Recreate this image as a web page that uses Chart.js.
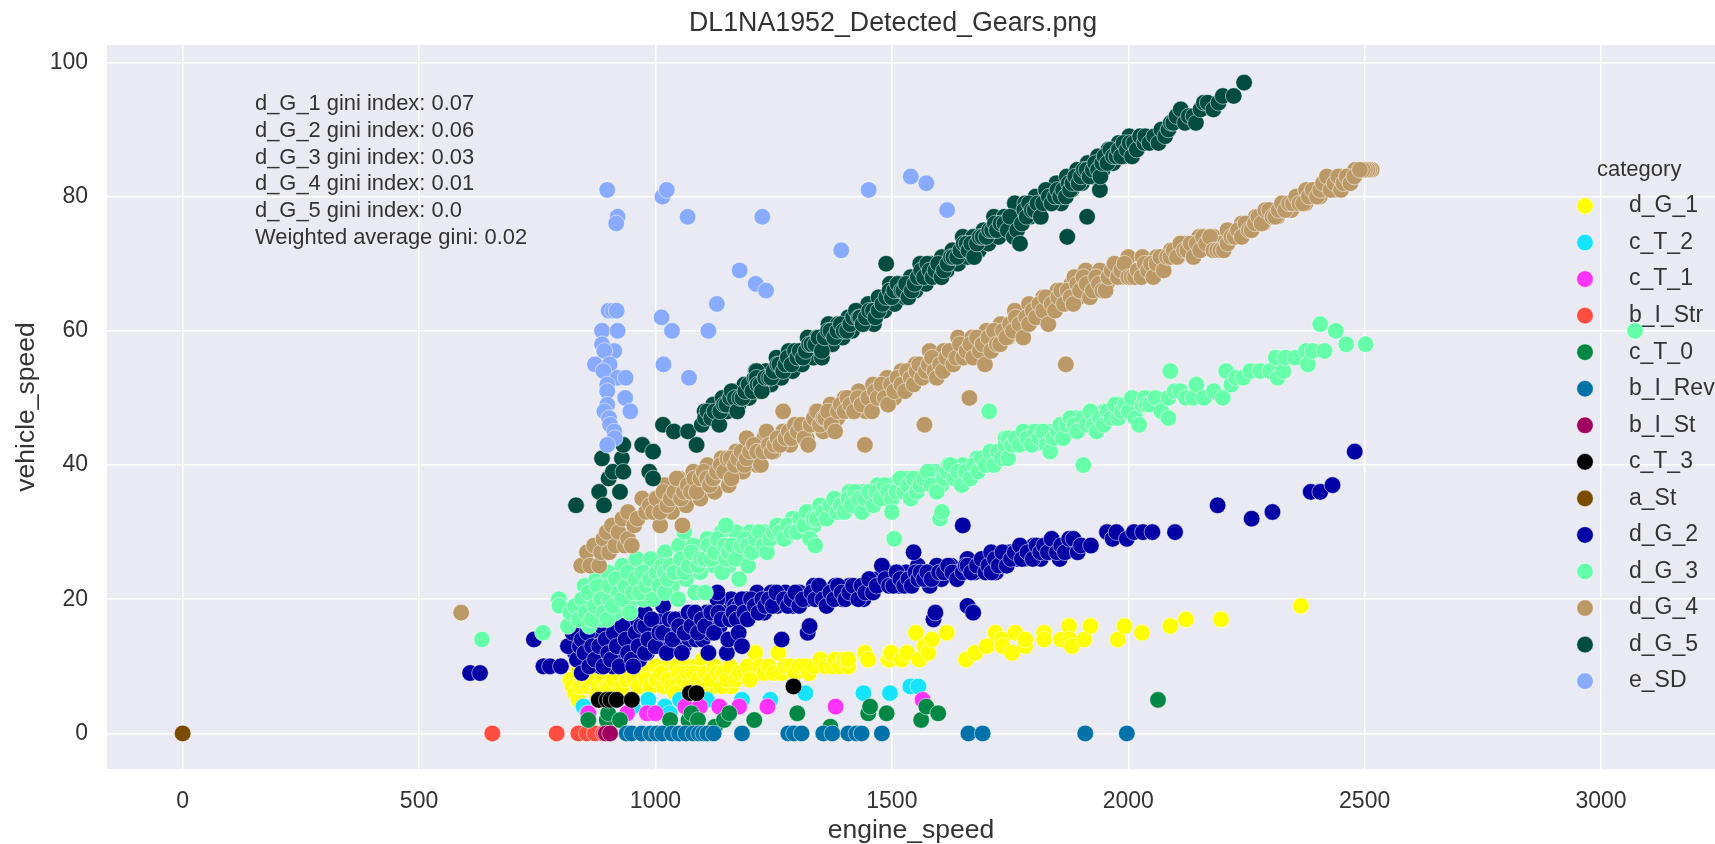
<!DOCTYPE html>
<html>
<head>
<meta charset="utf-8">
<script src="https://cdn.jsdelivr.net/npm/chart.js@4/dist/chart.umd.min.js"></script>
<style>
  html, body { margin: 0; padding: 0; background: #fff; overflow: hidden; }
  canvas { display: block; }
</style>
</head>
<body>
<canvas id="gears" width="1715" height="844"></canvas>
<script>
// engine_speed / vehicle_speed pairs per category
const dG1Edge = [[835,9],[850,10],[870,9],[895,9],[915,10],[945,10],[960,9],[985,10],[1000,10],[1025,10],[1045,10],[1065,10],[1085,10],[1100,11],[1120,7],[1160,7],[1210,9]];
const dG1 = [[820,8],[825,7],[830,6],[837,5],[841,7],[850,8],[858,7],[865,8],[875,6],[880,7],[890,8],[897,7],[904,7],[912,8],[920,6],[930,7],[939,8],[948,9],[955,8],[964,7],[972,9],[980,8],[990,7],[1003,8],[1012,9],[1018,7],[1027,8],[1035,7],[1042,6],[1050,9],[1059,8],[1068,9],[1072,7],[1080,9],[1090,8],[1098,7],[1105,9],[1116,8],[1125,10],[1132,9],[1143,9],[1140,7],[1150,8],[1158,10],[1170,8],[1178,9],[1190,9],[1195,10],[1200,8],[1211,12],[1221,10],[1230,9],[1240,10],[1250,9],[1260,12],[1267,9],[1275,10],[1285,10],[1295,9],[1305,10],[1317,10],[1325,9],[1335,10],[1349,11],[1360,10],[1373,10],[1380,11],[1390,10],[1400,11],[1408,10],[1408,11],[1443,12],[1450,11],[1492,11],[1495,11],[1497,12],[1499,12],[1521,11],[1532,12],[1551,15],[1558,11],[1568,13],[1570,13],[1577,12],[1585,14],[1616,15],[1657,11],[1676,12],[1701,13],[1719,15],[1733,14],[1734,13],[1754,12],[1761,15],[1782,13],[1782,14],[1822,15],[1822,14],[1858,14],[1875,16],[1876,14],[1881,13],[1907,14],[1920,16],[1978,14],[1992,16],[2029,15],[2089,16],[2122,17],[2196,17],[2365,19]];
const cT2 = [[848,4],[856,3],[952,4],[985,5],[1020,4],[1030,3],[1052,5],[1109,5],[1183,5],[1243,5],[1317,6],[1440,6],[1496,6],[1539,7],[1556,7]];
const cT1 = [[858,3],[940,3],[982,3],[1000,3],[1063,4],[1094,4],[1135,4],[1177,4],[1237,4],[1381,4],[1565,5]];
const bIStr = [[655,0],[791,0],[837,0],[855,0],[872,0],[890,0]];
const cT0 = [[858,2],[897,2],[900,3],[925,2],[1031,2],[1070,2],[1076,3],[1090,2],[1126,1],[1145,2],[1156,3],[1209,2],[1300,3],[1370,1],[1450,3],[1454,4],[1489,3],[1562,2],[1573,4],[1598,3],[2063,5]];
const bIRev = [[939,0],[950,0],[971,0],[990,0],[1003,0],[1015,0],[1035,0],[1050,0],[1064,0],[1080,0],[1092,0],[1101,0],[1110,0],[1123,0],[1183,0],[1281,0],[1293,0],[1309,0],[1355,0],[1374,0],[1408,0],[1425,0],[1436,0],[1479,0],[1662,0],[1692,0],[1909,0],[1997,0]];
const bISt = [[895,0],[904,0]];
const cT3 = [[880,5],[897,5],[905,5],[918,5],[950,5],[1073,6],[1087,6],[1292,7]];
const aSt = [[0,0]];
const dG2Edge = [[830,12],[838,16],[845,11],[852,14],[858,17],[865,11],[872,15],[878,13],[884,10],[892,12],[898,16],[904,14],[910,10],[916,12],[922,16],[928,13],[934,11],[940,15],[946,13],[952,17],[960,12],[966,11],[974,14],[982,12],[988,15],[994,13],[1002,16],[1010,13],[1018,17],[1026,15],[1032,13],[1040,16],[1046,14],[1054,17],[1060,13],[1066,17],[1072,14],[1080,16],[1086,14],[1094,16],[1100,14],[1108,18],[1114,15],[1120,16],[1128,17],[1136,16],[1144,19],[1150,18],[1160,20],[1168,19],[1178,19],[1192,20],[1200,18],[1215,21],[1230,18],[1245,21],[1258,19],[1275,21],[1290,19],[1305,21],[1320,20],[1335,22],[1350,21],[1365,20],[1380,22],[1395,20],[1410,22],[1425,21],[1440,20],[1455,22],[1470,23],[1490,24],[1500,23],[1515,22],[1530,24],[1545,23],[1555,25],[1570,24],[1580,22],[1595,25],[1605,23],[1625,25],[1640,24],[1660,26],[1675,24],[1695,25],[1720,24],[1735,25],[1750,27],[1765,26],[1780,26],[1800,28],[1815,26],[1840,28],[1855,26]];
const dG2 = [[608,9],[629,9],[743,14],[763,10],[777,10],[800,10],[815,13],[825,15],[834,11],[840,13],[844,9],[844,14],[850,12],[856,15],[860,10],[866,13],[872,11],[881,13],[886,16],[890,10],[895,14],[900,12],[906,11],[912,15],[918,13],[924,10],[930,16],[937,14],[942,12],[950,11],[953,10],[958,15],[964,13],[970,16],[978,12],[978,16],[978,18],[985,14],[992,17],[1000,13],[1008,15],[1016,15],[1016,19],[1024,12],[1030,17],[1036,14],[1042,17],[1050,16],[1056,12],[1062,15],[1070,18],[1076,16],[1084,18],[1090,15],[1098,17],[1105,16],[1112,12],[1118,18],[1124,15],[1131,20],[1131,21],[1133,18],[1140,17],[1151,12],[1154,14],[1158,17],[1165,18],[1172,17],[1176,15],[1183,13],[1183,20],[1188,18],[1195,17],[1202,20],[1210,19],[1218,18],[1226,20],[1232,19],[1240,20],[1248,19],[1256,21],[1267,14],[1272,20],[1280,19],[1288,20],[1296,21],[1304,19],[1312,20],[1322,15],[1326,16],[1330,21],[1338,20],[1346,22],[1354,20],[1362,19],[1370,21],[1378,20],[1386,22],[1394,21],[1402,20],[1410,21],[1418,22],[1429,20],[1436,22],[1444,21],[1452,23],[1460,21],[1468,22],[1479,25],[1486,23],[1494,22],[1503,22],[1510,24],[1518,23],[1526,22],[1535,23],[1542,22],[1546,27],[1550,24],[1556,23],[1561,24],[1568,23],[1575,24],[1584,23],[1588,17],[1592,18],[1600,24],[1610,24],[1619,25],[1628,24],[1638,23],[1650,24],[1650,31],[1656,25],[1660,19],[1660,25],[1668,24],[1672,18],[1680,25],[1690,26],[1698,24],[1704,25],[1710,27],[1711,24],[1718,26],[1726,25],[1734,27],[1743,25],[1752,26],[1760,27],[1771,28],[1775,26],[1787,27],[1798,26],[1806,28],[1814,27],[1822,28],[1830,27],[1838,29],[1849,27],[1858,28],[1866,27],[1875,29],[1884,29],[1893,27],[1900,28],[1921,28],[1955,30],[1967,29],[1975,30],[1997,29],[2012,30],[2031,30],[2051,30],[2099,30],[2189,34],[2261,32],[2305,33],[2386,36],[2406,36],[2432,37],[2479,42]];
const dG3Edge = [[850,22],[860,16],[875,23],[885,17],[900,24],[915,18],[930,25],[945,19],[960,26],[975,20],[990,26],[1005,21],[1020,27],[1035,22],[1050,28],[1065,23],[1080,28],[1095,24],[1110,29],[1125,25],[1140,30],[1155,25],[1170,30],[1185,26],[1200,30],[1215,28],[1230,30],[1245,29],[1260,31],[1275,29],[1290,32],[1305,31],[1320,33],[1335,31],[1350,34],[1365,33],[1380,35],[1395,33],[1410,36],[1425,34],[1440,36],[1455,35],[1470,37],[1485,35],[1500,37],[1515,36],[1530,38],[1545,36],[1560,38],[1575,38],[1590,39],[1605,37],[1620,40],[1635,38],[1650,40],[1665,38],[1680,41],[1695,40],[1710,42],[1725,41],[1740,44],[1755,43],[1770,44],[1785,44],[1800,45],[1815,44],[1830,45],[1845,44],[1860,46],[1875,46],[1890,47],[1905,46],[1920,48],[1935,47],[1950,48],[1965,47],[1980,49],[1995,48],[2010,49],[2025,49],[2040,50],[2055,49]];
const dG3 = [[633,14],[762,15],[796,20],[797,19],[815,16],[820,18],[830,19],[838,17],[845,20],[852,18],[858,21],[865,17],[872,19],[878,22],[885,20],[890,18],[898,17],[903,20],[903,22],[910,19],[916,23],[922,21],[930,20],[936,22],[942,24],[946,18],[952,21],[958,23],[967,21],[973,24],[980,22],[988,23],[995,20],[1002,24],[1008,22],[1014,25],[1020,21],[1020,24],[1026,23],[1032,25],[1040,24],[1048,20],[1054,26],[1061,30],[1062,24],[1070,25],[1076,27],[1084,21],[1090,25],[1096,26],[1105,21],[1105,26],[1112,28],[1118,26],[1125,27],[1132,29],[1141,24],[1147,28],[1149,26],[1149,31],[1155,27],[1162,28],[1170,26],[1177,23],[1182,28],[1190,29],[1196,25],[1196,28],[1204,27],[1212,29],[1220,30],[1228,28],[1236,27],[1242,29],[1250,30],[1257,31],[1264,30],[1272,29],[1280,31],[1288,30],[1299,30],[1306,32],[1314,31],[1320,33],[1327,29],[1334,32],[1338,28],[1341,32],[1348,34],[1355,33],[1362,32],[1370,34],[1378,35],[1384,33],[1392,34],[1400,33],[1408,35],[1415,34],[1422,36],[1430,35],[1437,33],[1444,35],[1452,36],[1461,34],[1468,36],[1476,35],[1484,37],[1492,36],[1500,35],[1500,33],[1505,29],[1510,36],[1518,38],[1526,36],[1534,37],[1540,35],[1546,38],[1553,36],[1560,37],[1568,38],[1576,39],[1584,37],[1595,36],[1602,32],[1606,33],[1610,38],[1617,39],[1624,40],[1632,38],[1640,39],[1648,37],[1656,39],[1666,38],[1674,40],[1682,39],[1690,41],[1698,40],[1706,48],[1708,42],[1716,40],[1724,42],[1732,41],[1740,43],[1746,41],[1746,44],[1754,43],[1762,44],[1770,43],[1778,45],[1786,44],[1796,43],[1804,45],[1812,44],[1820,45],[1827,43],[1835,42],[1842,44],[1850,45],[1856,46],[1862,44],[1870,46],[1878,47],[1886,46],[1892,45],[1905,40],[1905,47],[1912,46],[1920,48],[1927,46],[1933,45],[1940,47],[1948,46],[1956,48],[1964,47],[1972,49],[1979,47],[1986,48],[1994,49],[2001,48],[2008,50],[2015,47],[2023,46],[2030,49],[2035,50],[2039,49],[2046,49],[2058,50],[2070,48],[2085,47],[2085,50],[2089,54],[2098,51],[2110,51],[2122,50],[2137,50],[2144,52],[2160,50],[2181,51],[2200,50],[2207,54],[2218,52],[2228,53],[2243,53],[2258,54],[2279,54],[2300,54],[2312,56],[2316,53],[2328,54],[2332,56],[2353,56],[2376,57],[2380,55],[2390,57],[2406,61],[2415,57],[2439,60],[2461,58],[2502,58],[3072,60]];
const dG4Edge = [[1000,35],[1010,31],[1020,37],[1035,33],[1050,38],[1065,34],[1080,39],[1095,35],[1110,40],[1125,36],[1140,41],[1155,37],[1170,42],[1185,39],[1200,43],[1215,40],[1230,44],[1250,42],[1270,45],[1285,43],[1300,46],[1320,44],[1340,48],[1355,45],[1370,49],[1385,47],[1400,50],[1415,48],[1430,51],[1445,48],[1460,52],[1475,50],[1490,53],[1505,50],[1520,54],[1535,52],[1550,55],[1565,53],[1580,57],[1595,53],[1610,57],[1625,55],[1640,59],[1655,56],[1670,59],[1685,57],[1700,60],[1715,58],[1730,61],[1745,59],[1760,63],[1775,60],[1790,64],[1805,62],[1820,65],[1835,63],[1850,66],[1865,64],[1880,67],[1895,65],[1910,69],[1925,66],[1940,69],[1955,67],[1970,70],[1985,68],[2000,71],[2015,68],[2030,71],[2045,69],[2060,71],[2075,71],[2090,72],[2105,71],[2120,73],[2135,72],[2150,74],[2165,73],[2180,74],[2195,73],[2210,75],[2225,74],[2240,76],[2255,75],[2270,77],[2285,76],[2300,78],[2315,77],[2330,79],[2345,78],[2360,80],[2375,79],[2390,81],[2405,80],[2420,82],[2435,81],[2450,83],[2465,82],[2480,84]];
const dG4 = [[589,18],[843,25],[855,27],[862,25],[870,28],[881,25],[885,27],[890,29],[897,30],[902,27],[908,31],[915,28],[922,30],[930,32],[935,28],[942,29],[942,33],[950,28],[955,31],[962,32],[972,35],[980,33],[988,34],[995,33],[1002,35],[1010,33],[1017,36],[1025,34],[1032,35],[1040,36],[1045,38],[1054,35],[1057,31],[1060,36],[1068,37],[1075,36],[1082,38],[1087,36],[1095,38],[1102,39],[1109,38],[1115,37],[1122,38],[1130,39],[1138,40],[1145,39],[1152,41],[1159,41],[1161,38],[1168,40],[1175,41],[1182,42],[1188,40],[1193,41],[1193,44],[1200,42],[1208,43],[1215,42],[1223,40],[1228,42],[1235,45],[1240,43],[1246,42],[1252,43],[1258,44],[1264,43],[1270,48],[1275,44],[1282,45],[1288,44],[1295,46],[1301,45],[1308,46],[1315,44],[1323,43],[1328,46],[1335,47],[1342,48],[1348,46],[1355,47],[1359,47],[1365,48],[1372,46],[1380,45],[1386,48],[1392,49],[1400,48],[1406,50],[1412,49],[1420,48],[1428,50],[1436,49],[1443,43],[1450,50],[1458,48],[1464,51],[1470,50],[1478,52],[1485,50],[1492,49],[1498,52],[1505,51],[1512,53],[1520,52],[1528,51],[1532,54],[1540,53],[1546,52],[1552,54],[1558,55],[1564,53],[1569,46],[1572,54],[1578,55],[1585,56],[1590,54],[1595,53],[1602,55],[1608,54],[1615,56],[1622,57],[1630,55],[1636,56],[1644,58],[1651,56],[1658,57],[1664,50],[1666,58],[1672,56],[1680,59],[1686,57],[1692,58],[1697,55],[1704,59],[1710,57],[1716,60],[1722,58],[1729,58],[1735,60],[1742,59],[1750,61],[1756,60],[1762,62],[1770,61],[1778,59],[1784,62],[1790,61],[1798,63],[1805,62],[1812,64],[1820,63],[1826,65],[1831,61],[1838,64],[1845,63],[1852,65],[1858,66],[1864,64],[1868,55],[1872,66],[1878,65],[1884,64],[1886,68],[1892,67],[1898,66],[1905,68],[1912,67],[1919,65],[1925,66],[1932,68],[1938,67],[1945,66],[1952,66],[1958,68],[1965,69],[1971,70],[1978,68],[1985,69],[1992,70],[2000,68],[2007,68],[2014,68],[2020,69],[2028,68],[2035,70],[2042,69],[2048,70],[2053,68],[2060,70],[2068,71],[2075,69],[2082,71],[2089,71],[2096,72],[2103,71],[2110,73],[2118,72],[2125,72],[2132,73],[2138,71],[2145,73],[2152,72],[2158,74],[2165,73],[2173,74],[2180,72],[2188,72],[2195,72],[2202,72],[2210,73],[2218,74],[2225,74],[2232,75],[2240,74],[2248,76],[2255,75],[2261,75],[2268,76],[2275,77],[2282,76],[2290,78],[2298,78],[2305,77],[2311,77],[2318,78],[2325,79],[2332,78],[2340,79],[2348,79],[2355,80],[2362,79],[2370,79],[2376,81],[2382,80],[2390,81],[2399,80],[2406,81],[2412,82],[2420,83],[2428,81],[2436,82],[2444,83],[2450,81],[2455,82],[2462,83],[2470,82],[2478,83],[2515,84],[2510,84],[2506,84],[2501,84],[2496,84],[2490,84]];
const dG5Edge = [[1104,48],[1112,47],[1122,49],[1130,47],[1142,50],[1152,48],[1165,51],[1176,49],[1188,52],[1198,50],[1212,54],[1220,51],[1234,54],[1244,52],[1256,56],[1266,53],[1282,57],[1290,54],[1302,57],[1310,55],[1322,59],[1334,56],[1342,59],[1352,56],[1366,61],[1374,58],[1386,61],[1396,59],[1408,62],[1416,60],[1428,63],[1440,61],[1450,64],[1462,61],[1472,65],[1484,63],[1496,67],[1506,64],[1516,67],[1528,65],[1540,68],[1550,66],[1560,70],[1572,67],[1584,70],[1596,69],[1606,71],[1616,69],[1628,72],[1640,70],[1650,74],[1660,71],[1672,74],[1684,72],[1694,75],[1704,73],[1716,77],[1726,74],[1738,77],[1748,75],[1760,79],[1770,76],[1782,79],[1792,77],[1804,80],[1814,77],[1826,81],[1836,79],[1848,82],[1858,79],[1870,83],[1880,81],[1892,84],[1902,82],[1914,85],[1924,83],[1936,86],[1946,84],[1958,87],[1968,85],[1980,88],[1990,86],[2002,89],[2014,87],[2026,89]];
const dG5 = [[832,34],[881,36],[887,41],[891,34],[901,38],[910,39],[925,36],[929,41],[932,39],[932,43],[972,43],[987,39],[995,38],[995,42],[1016,46],[1039,45],[1069,45],[1087,43],[1098,46],[1105,47],[1110,48],[1118,47],[1125,48],[1135,46],[1137,48],[1145,49],[1150,49],[1158,50],[1161,51],[1168,50],[1173,48],[1178,50],[1184,50],[1190,51],[1197,52],[1205,51],[1210,53],[1214,54],[1214,53],[1216,52],[1222,52],[1225,51],[1232,53],[1240,53],[1245,53],[1250,54],[1258,55],[1262,55],[1270,54],[1275,55],[1280,56],[1288,55],[1295,57],[1300,56],[1305,57],[1312,56],[1318,57],[1325,58],[1330,58],[1338,58],[1345,59],[1352,57],[1358,59],[1365,60],[1370,60],[1378,59],[1385,60],[1392,61],[1398,60],[1405,60],[1412,61],[1418,62],[1424,63],[1430,62],[1433,62],[1438,61],[1445,62],[1452,63],[1460,63],[1465,62],[1472,63],[1480,64],[1488,70],[1488,65],[1495,66],[1500,65],[1505,66],[1512,67],[1520,66],[1524,66],[1530,67],[1535,65],[1542,66],[1548,67],[1555,68],[1562,69],[1568,68],[1575,70],[1580,69],[1586,68],[1592,69],[1598,70],[1605,68],[1610,69],[1618,70],[1625,71],[1630,71],[1638,71],[1645,72],[1652,73],[1658,73],[1662,72],[1668,73],[1674,71],[1680,73],[1686,74],[1692,74],[1700,74],[1706,75],[1712,75],[1718,76],[1722,75],[1730,76],[1738,76],[1745,75],[1750,77],[1758,74],[1765,75],[1771,73],[1775,76],[1780,78],[1785,77],[1790,79],[1796,78],[1802,78],[1808,79],[1815,77],[1820,79],[1826,81],[1832,80],[1838,79],[1845,80],[1850,81],[1856,80],[1862,81],[1868,80],[1871,74],[1874,82],[1877,81],[1882,82],[1888,83],[1895,82],[1900,83],[1906,84],[1912,84],[1913,77],[1918,83],[1925,84],[1930,85],[1936,84],[1940,81],[1941,83],[1945,85],[1950,86],[1956,85],[1962,87],[1968,86],[1975,86],[1980,87],[1985,86],[1990,88],[1997,87],[2003,88],[2008,86],[2012,88],[2018,87],[2025,89],[2034,88],[2036,89],[2045,88],[2055,89],[2064,88],[2070,90],[2078,89],[2085,90],[2090,91],[2095,91],[2102,92],[2111,93],[2120,91],[2128,92],[2138,92],[2143,91],[2153,93],[2160,94],[2168,94],[2180,93],[2191,94],[2200,95],[2223,95],[2245,97]];
const eSD = [[898,81],[920,77],[917,76],[1015,80],[1024,81],[1068,77],[1226,77],[1451,81],[1540,83],[1573,82],[1617,78],[1393,72],[1178,69],[1212,67],[1234,66],[1130,64],[1013,62],[1035,60],[1112,60],[1017,55],[1071,53],[901,63],[910,63],[918,63],[887,60],[920,60],[887,58],[913,57],[892,57],[872,55],[903,55],[890,54],[920,53],[937,53],[898,52],[898,51],[936,50],[947,48],[898,49],[892,48],[902,47],[904,46],[913,45],[914,44],[898,43]];

const categories = ['d_G_1','c_T_2','c_T_1','b_I_Str','c_T_0','b_I_Rev','b_I_St','c_T_3','a_St','d_G_2','d_G_3','d_G_4','d_G_5','e_SD'];
// the edge rows of each thick band go first so the middle rows sit on top
const seriesPoints = [dG1Edge.concat(dG1),cT2,cT1,bIStr,cT0,bIRev,bISt,cT3,aSt,dG2Edge.concat(dG2),dG3Edge.concat(dG3),dG4Edge.concat(dG4),dG5Edge.concat(dG5),eSD];
const colors = ['#ffff00','#16e4ff','#ff33ff','#ff4d40','#008844','#0072aa','#a00060','#000000','#7a4b00','#0000a5','#66ffaa','#bb9966','#004d40','#88aaff'];
const xTicks = [0,500,1000,1500,2000,2500,3000];
const yTicks = [0,20,40,60,80,100];
const giniLines = ['d_G_1 gini index: 0.07','d_G_2 gini index: 0.06','d_G_3 gini index: 0.03','d_G_4 gini index: 0.01','d_G_5 gini index: 0.0','Weighted average gini: 0.02'];

const TXT = '#333333';
const FONT = '"Liberation Sans", Arial, sans-serif';
const EDGE = 'rgba(255,255,255,0.75)';

// title, gini note and the legend sit at fixed spots, the legend under the points
const overlay = {
  id: 'overlay',
  beforeDatasetsDraw(chart) {
    const c = chart.ctx;
    c.save();
    c.fillStyle = TXT;
    c.textBaseline = 'middle';
    c.textAlign = 'left';
    c.font = '21.9px ' + FONT;
    giniLines.forEach((t, i) => c.fillText(t, 255, 104 + i * 26.8));
    c.font = '22px ' + FONT;
    c.fillText('category', 1597, 170);
    categories.forEach((name, i) => {
      const y = 206 + i * 36.55;
      c.beginPath();
      c.arc(1585, y, 8.3, 0, Math.PI * 2);
      c.fillStyle = colors[i];
      c.fill();
      c.lineWidth = 0.7;
      c.strokeStyle = EDGE;
      c.stroke();
      c.fillStyle = TXT;
      c.font = '23px ' + FONT;
      c.fillText(name, 1629, y);
    });
    c.restore();
  },
  afterDraw(chart) {
    const c = chart.ctx;
    c.save();
    c.fillStyle = TXT;
    c.textAlign = 'center';
    c.textBaseline = 'middle';
    c.font = '26.8px ' + FONT;
    c.fillText('DL1NA1952_Detected_Gears.png', 893, 24);
    c.restore();
  }
};

new Chart(document.getElementById('gears'), {
  type: 'scatter',
  data: {
    datasets: categories.map((name, i) => ({
      label: name,
      data: seriesPoints[i].map(p => ({ x: p[0], y: p[1] })),
      backgroundColor: colors[i],
      borderColor: EDGE,
      borderWidth: 0.7,
      pointRadius: 8.3,
      order: categories.length - i
    }))
  },
  options: {
    responsive: false,
    animation: false,
    events: [],
    layout: { autoPadding: false, padding: { top: 45, left: 0, right: 0, bottom: 0 } },
    plugins: { legend: { display: false }, tooltip: { enabled: false } },
    scales: {
      x: {
        type: 'linear',
        min: -160,
        max: 3241,
        afterBuildTicks: s => { s.ticks = xTicks.map(v => ({ value: v })); },
        afterFit: s => { s.height = 75; s.paddingLeft = 0; s.paddingRight = 0; },
        border: { display: false },
        grid: { color: '#ffffff', lineWidth: 1.5, drawTicks: false },
        ticks: { maxRotation: 0, autoSkip: false, padding: 19, color: TXT, font: { family: FONT, size: 23 }, callback: v => String(v) },
        title: { display: true, text: 'engine_speed', color: TXT, font: { family: FONT, size: 26.5, lineHeight: 1 }, padding: { top: 0, bottom: 0 } }
      },
      y: {
        min: -5.3,
        max: 102.6,
        afterBuildTicks: s => { s.ticks = yTicks.map(v => ({ value: v })); },
        afterFit: s => { s.width = 107; s.paddingTop = 0; s.paddingBottom = 0; },
        border: { display: false },
        grid: { color: '#ffffff', lineWidth: 1.5, drawTicks: false },
        ticks: { autoSkip: false, padding: 19, color: TXT, font: { family: FONT, size: 23 }, callback: v => String(v) },
        title: { display: true, text: 'vehicle_speed', color: TXT, font: { family: FONT, size: 26.5, lineHeight: 1 }, padding: { top: 13, bottom: 0 } }
      }
    }
  },
  plugins: [{
    id: 'plotBack',
    beforeDraw(chart) {
      const a = chart.chartArea;
      chart.ctx.fillStyle = '#eaeaf2';
      chart.ctx.fillRect(a.left, a.top, a.right - a.left, a.bottom - a.top);
    }
  }, overlay]
});
</script>
</body>
</html>
